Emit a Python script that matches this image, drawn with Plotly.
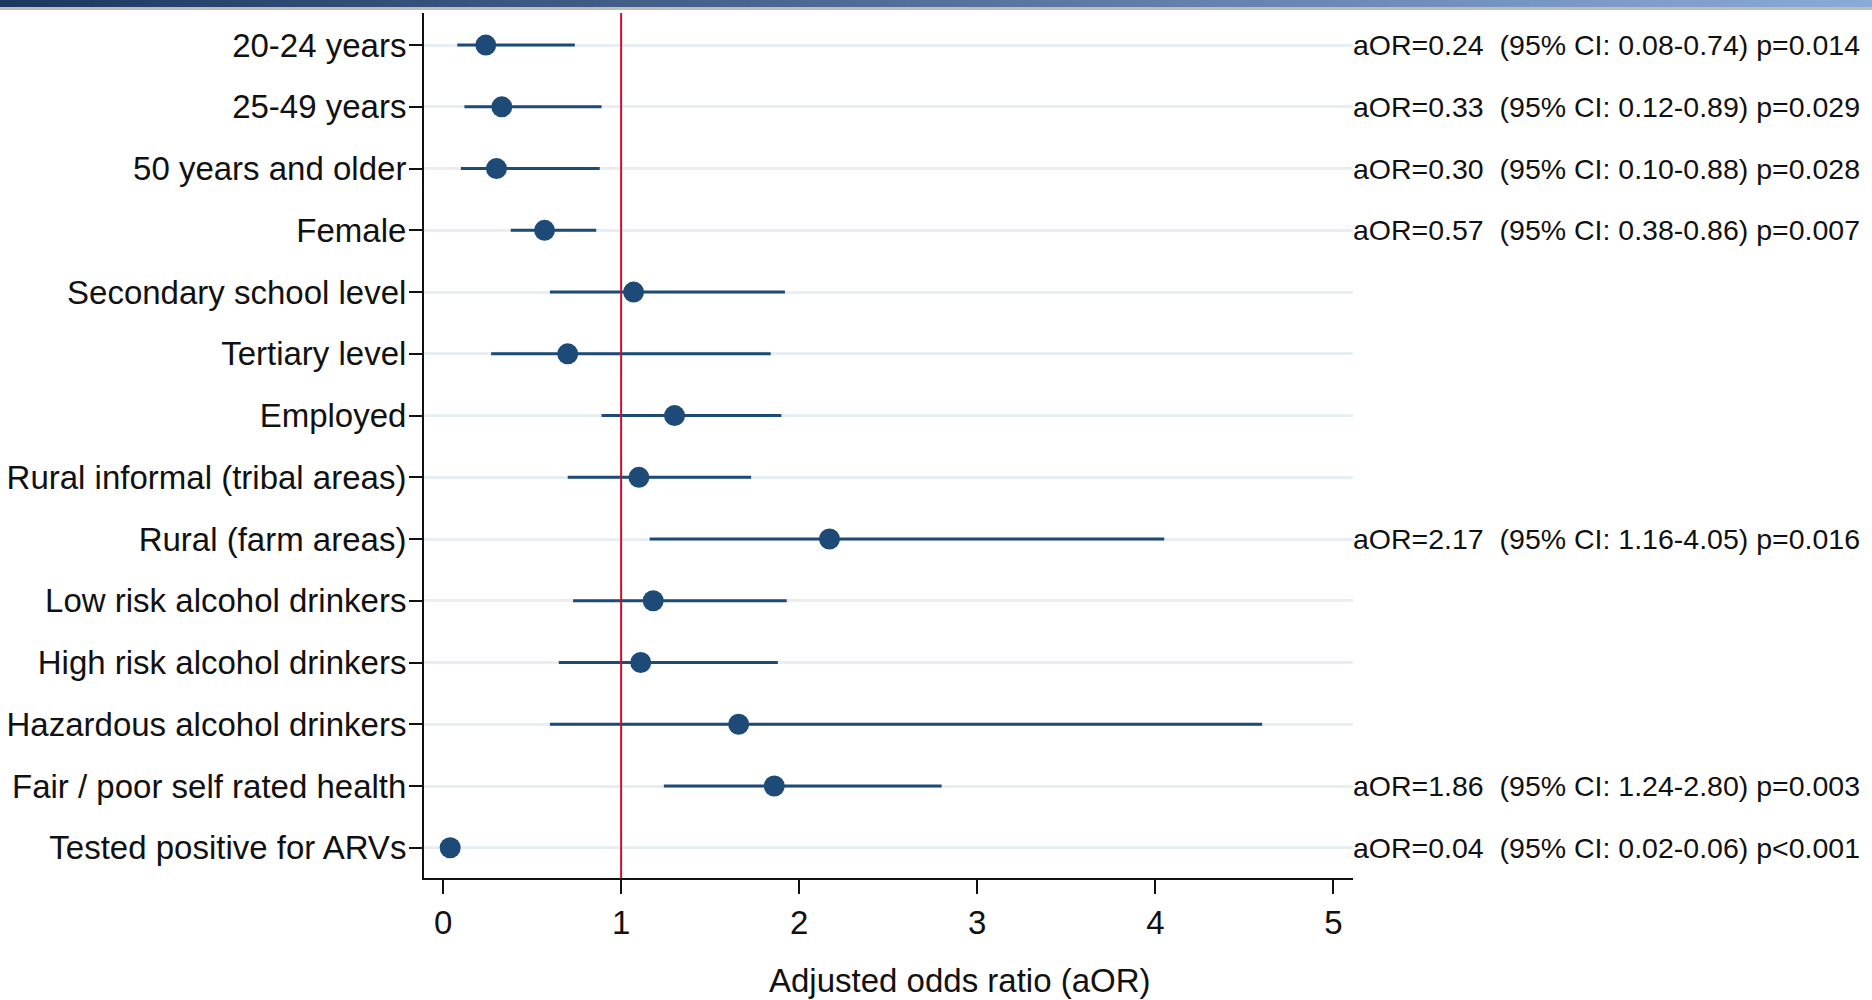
import plotly.graph_objects as go

categories = [
    "20-24 years", "25-49 years", "50 years and older", "Female",
    "Secondary school level", "Tertiary level", "Employed",
    "Rural informal (tribal areas)", "Rural (farm areas)",
    "Low risk alcohol drinkers", "High risk alcohol drinkers",
    "Hazardous alcohol drinkers", "Fair / poor self rated health",
    "Tested positive for ARVs",
]
aor = [0.24, 0.33, 0.30, 0.57, 1.07, 0.70, 1.30, 1.10, 2.17, 1.18, 1.11, 1.66, 1.86, 0.04]
ci_low = [0.08, 0.12, 0.10, 0.38, 0.60, 0.27, 0.89, 0.70, 1.16, 0.73, 0.65, 0.60, 1.24, 0.02]
ci_high = [0.74, 0.89, 0.88, 0.86, 1.92, 1.84, 1.90, 1.73, 4.05, 1.93, 1.88, 4.60, 2.80, 0.06]
notes = [
    "aOR=0.24  (95% CI: 0.08-0.74) p=0.014",
    "aOR=0.33  (95% CI: 0.12-0.89) p=0.029",
    "aOR=0.30  (95% CI: 0.10-0.88) p=0.028",
    "aOR=0.57  (95% CI: 0.38-0.86) p=0.007",
    "", "", "", "",
    "aOR=2.17  (95% CI: 1.16-4.05) p=0.016",
    "", "", "",
    "aOR=1.86  (95% CI: 1.24-2.80) p=0.003",
    "aOR=0.04  (95% CI: 0.02-0.06) p<0.001",
]
x_ticks = [0, 1, 2, 3, 4, 5]
ref_value = 1
x_title = "Adjusted odds ratio (aOR)"

W, H = 1872, 1000
ML, MR, MT, MB = 424, 519, 13, 122
PW, PH = W - ML - MR, H - MT - MB

NAVY = "#1d4a76"
FONT = "Liberation Sans, Arial, sans-serif"

fig = go.Figure()

# CI lines
ci_x, ci_y = [], []
for c, lo, hi in zip(categories, ci_low, ci_high):
    ci_x += [lo, hi, None]
    ci_y += [c, c, None]
fig.add_trace(go.Scatter(x=ci_x, y=ci_y, mode="lines",
                         line=dict(color=NAVY, width=3), hoverinfo="skip",
                         showlegend=False))
fig.add_trace(go.Scatter(x=aor, y=categories, mode="markers",
                         marker=dict(color=NAVY, size=21), showlegend=False))

# reference line
fig.add_shape(type="line", xref="x", yref="paper", x0=ref_value, x1=ref_value,
              y0=0, y1=1, line=dict(color="#c8102e", width=2), layer="above")

# header gradient bar
n = 120
left_page = -ML / PW
right_page = (W - ML) / PW
c0 = (0x1c, 0x38, 0x62)
c1 = (0x8c, 0xaa, 0xd6)
for i in range(n):
    t = i / (n - 1)
    col = tuple(int(round(a + (b - a) * t)) for a, b in zip(c0, c1))
    xa = left_page + (right_page - left_page) * i / n
    xb = left_page + (right_page - left_page) * (i + 1) / n + 0.001
    fig.add_shape(type="rect", xref="paper", yref="paper", x0=xa, x1=xb,
                  y0=1 + (MT - 7) / PH, y1=1 + MT / PH + 0.01,
                  line=dict(width=0), fillcolor="rgb(%d,%d,%d)" % col, layer="above")
fig.add_shape(type="rect", xref="paper", yref="paper", x0=left_page, x1=right_page,
              y0=1 + (MT - 10) / PH, y1=1 + (MT - 7) / PH,
              line=dict(width=0), fillcolor="#bdbdbd", layer="above")

for c, txt in zip(categories, notes):
    if txt:
        fig.add_annotation(x=1, y=c, xref="paper", yref="y", text=txt,
                           showarrow=False, xanchor="left", yanchor="middle",
                           xshift=-2, font=dict(family=FONT, size=28.5, color="#111"))

fig.add_annotation(x=(960 - ML) / PW, y=-(981 - (H - MB)) / PH, xref="paper", yref="paper",
                   text=x_title, showarrow=False, xanchor="center", yanchor="middle",
                   font=dict(family=FONT, size=33, color="#111"))

fig.update_layout(
    width=W, height=H,
    margin=dict(l=ML, r=MR, t=MT, b=MB, pad=0, autoexpand=False),
    plot_bgcolor="white", paper_bgcolor="white",
    showlegend=False,
    xaxis=dict(range=[-0.107, 5.11], tickvals=x_ticks, ticks="outside", ticklen=14,
               tickwidth=2, tickcolor="#111", showline=True, linecolor="#111",
               linewidth=2, showgrid=False, zeroline=False, automargin=False,
               tickfont=dict(family=FONT, size=33, color="#111")),
    yaxis=dict(type="category", categoryorder="array", categoryarray=categories,
               range=[len(categories) - 0.51, -0.52], ticks="outside", ticklen=13,
               tickwidth=2, tickcolor="#111", showline=True, linecolor="#111",
               linewidth=2, showgrid=True, gridcolor="#e8eff2", gridwidth=3,
               zeroline=False, automargin=False, ticklabelstandoff=-4,
               tickfont=dict(family=FONT, size=33, color="#111")),
)

fig.write_html("out.html", config={"displayModeBar": False},
               post_script="document.body.style.margin='0';")
